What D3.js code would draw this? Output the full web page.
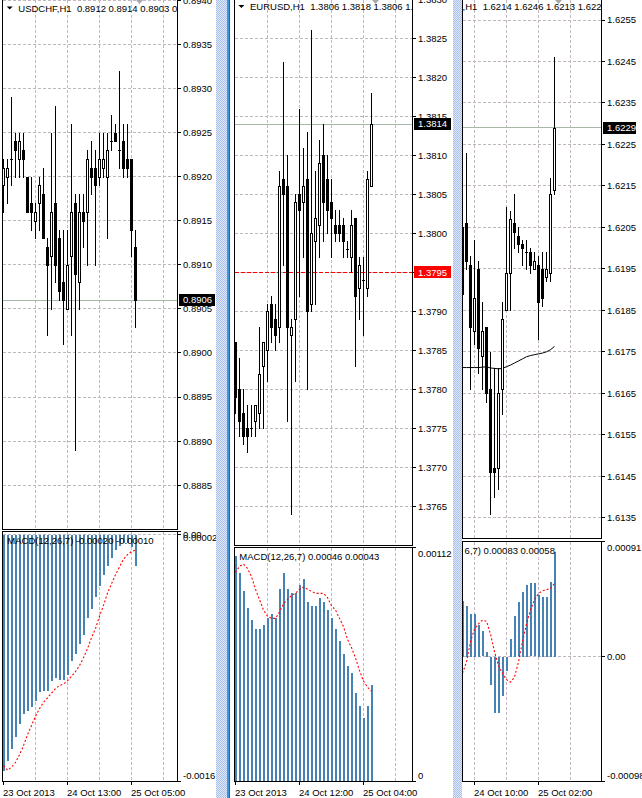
<!DOCTYPE html>
<html>
<head>
<meta charset="utf-8">
<script src="https://cdn.jsdelivr.net/npm/d3@7/dist/d3.min.js"></script>
<style>
html,body{margin:0;padding:0;background:#fff;overflow:hidden;}
svg{display:block;}
text{font-family:"Liberation Sans",Arial,Helvetica,sans-serif;font-size:9.5px;fill:#000;white-space:pre;}
</style>
</head>
<body>
<svg id="chart" width="642" height="798"></svg>
<script>
// ================= DATA =================
// USDCHF H1
const chfOpen  = [0.8919,0.8920,0.8922,0.8924,0.8922,0.8923,0.8920,0.8917,0.8915,0.8917,0.8918,0.8912,0.8911,0.8917,0.8913,0.8908,0.8905,0.8911,0.8917,0.8908,0.8916,0.8916,0.8921,0.8921,0.8920,0.8921,0.8920,0.8924,0.8925,0.8923,0.8924,0.8922,0.8922,0.8912];
const chfHigh  = [0.8922,0.8922,0.8929,0.8925,0.8925,0.8925,0.8920,0.8920,0.8917,0.8920,0.8921,0.8913,0.8925,0.8928,0.8914,0.8914,0.8914,0.8926,0.8918,0.8918,0.8918,0.8923,0.8924,0.8923,0.8925,0.8925,0.8925,0.8927,0.8926,0.8932,0.8926,0.8926,0.8922,0.8914];
const chfLow   = [0.8916,0.8917,0.8919,0.8920,0.8920,0.8920,0.8916,0.8914,0.8913,0.8914,0.8913,0.8902,0.8905,0.8908,0.8906,0.8901,0.8905,0.8902,0.8889,0.8905,0.8912,0.8910,0.8918,0.8910,0.8919,0.8920,0.8913,0.8923,0.8924,0.8921,0.8920,0.8920,0.8911,0.8903];
const chfClose = [0.8921,0.8921,0.8922,0.8923,0.8924,0.8922,0.8916,0.8916,0.8916,0.8919,0.8913,0.8910,0.8916,0.8910,0.8907,0.8906,0.8910,0.8916,0.8909,0.8916,0.8915,0.8922,0.8920,0.8919,0.8922,0.8922,0.8923,0.8924,0.8924,0.8923,0.8921,0.8921,0.8914,0.8906];
const chfMacd   = [-0.00153,-0.00147,-0.00139,-0.00131,-0.00123,-0.00116,-0.00114,-0.00112,-0.00108,-0.00102,-0.00101,-0.00101,-0.00095,-0.00093,-0.00094,-0.00094,-0.00091,-0.00082,-0.00077,-0.00071,-0.00065,-0.00054,-0.00048,-0.00040,-0.00033,-0.00026,-0.00020,-0.00015,-0.00010,-0.00007,-0.00005,-0.00005,-0.00008,-0.00020];
const chfSignal = [-0.00150,-0.00153,-0.00151,-0.00148,-0.00143,-0.00137,-0.00130,-0.00124,-0.00118,-0.00113,-0.00109,-0.00106,-0.00103,-0.00100,-0.00098,-0.00097,-0.00095,-0.00092,-0.00089,-0.00085,-0.00080,-0.00074,-0.00067,-0.00061,-0.00053,-0.00046,-0.00038,-0.00032,-0.00026,-0.00021,-0.00016,-0.00013,-0.00011,-0.00010];
const chfPriceTicks = [0.8885,0.8890,0.8895,0.8900,0.8905,0.8910,0.8915,0.8920,0.8925,0.8930,0.8935,0.8940];
const chfMacdScale = [-0.0016, 0.00002];
const chfMacdLevels = [0.00002, 0, -0.0016];
const chfMacdLevelText = ["0.00002", "0.00", "-0.0016"];
const chfDateIdx = [0, 16, 32];
const chfDateText = ["23 Oct 2013", "24 Oct 13:00", "25 Oct 05:00"];
const chfTitle = "USDCHF,H1  0.8912 0.8914 0.8903 0.8906";
const chfMacdTitle = "MACD(12,26,7) -0.00020 -0.00010";
const chfBid = 0.8906;

// EURUSD H1
const eurOpen  = [1.3786,1.3780,1.3777,1.3775,1.3775,1.3776,1.3777,1.3783,1.3785,1.3791,1.3789,1.3788,1.3807,1.3806,1.3787,1.3789,1.3805,1.3804,1.3807,1.3791,1.3799,1.3801,1.3810,1.3807,1.3804,1.3801,1.3801,1.3801,1.3798,1.3797,1.3802,1.3793,1.3794,1.3793,1.3806];
const eurHigh  = [1.3786,1.3784,1.3780,1.3778,1.3778,1.3778,1.3788,1.3786,1.3791,1.3792,1.3791,1.3808,1.3822,1.3810,1.3789,1.3805,1.3816,1.3811,1.3813,1.3826,1.3808,1.3812,1.3814,1.3810,1.3807,1.3803,1.3803,1.3802,1.3799,1.3803,1.3802,1.3797,1.3797,1.3808,1.3818];
const eurLow   = [1.3777,1.3774,1.3773,1.3772,1.3774,1.3774,1.3775,1.3775,1.3781,1.3786,1.3785,1.3786,1.3796,1.3776,1.3764,1.3781,1.3792,1.3797,1.3780,1.3790,1.3791,1.3797,1.3799,1.3800,1.3797,1.3799,1.3799,1.3797,1.3797,1.3795,1.3783,1.3789,1.3787,1.3792,1.3806];
const eurClose = [1.3779,1.3776,1.3774,1.3774,1.3775,1.3778,1.3782,1.3786,1.3790,1.3788,1.3787,1.3806,1.3805,1.3788,1.3788,1.3804,1.3803,1.3806,1.3790,1.3800,1.3802,1.3809,1.3804,1.3803,1.3802,1.3800,1.3800,1.3799,1.3798,1.3801,1.3792,1.3796,1.3794,1.3807,1.3814];
const eurMacd   = [0.00108,0.00100,0.00091,0.00083,0.00077,0.00073,0.00073,0.00075,0.00078,0.00080,0.00078,0.00092,0.00100,0.00092,0.00090,0.00090,0.00094,0.00097,0.00086,0.00084,0.00084,0.00088,0.00086,0.00082,0.00078,0.00073,0.00067,0.00061,0.00055,0.00052,0.00042,0.00036,0.00030,0.00036,0.00046];
const eurSignal = [0.00100,0.00103,0.00104,0.00102,0.00098,0.00092,0.00087,0.00082,0.00079,0.00078,0.00078,0.00081,0.00085,0.00087,0.00089,0.00090,0.00092,0.00093,0.00092,0.00091,0.00090,0.00090,0.00090,0.00088,0.00084,0.00082,0.00078,0.00074,0.00068,0.00064,0.00059,0.00053,0.00048,0.00045,0.00043];
const eurPriceTicks = [1.3765,1.3770,1.3775,1.3780,1.3785,1.3790,1.3795,1.3800,1.3805,1.3810,1.3815,1.3820,1.3825,1.3830];
const eurMacdScale = [0, 0.00112];
const eurMacdLevels = [0.00112, 0];
const eurMacdLevelText = ["0.00112", "0"];
const eurDateIdx = [0, 16, 32];
const eurDateText = ["23 Oct 2013", "24 Oct 12:00", "25 Oct 04:00"];
const eurTitle = "EURUSD,H1  1.3806 1.3818 1.3806 1.3814";
const eurMacdTitle = "MACD(12,26,7) 0.00046 0.00043";
const eurBid = 1.3814;
const eurAlert = 1.3795;

// GBPUSD H1 (window partly hidden on the left)
const gbpOpen  = [1.6205,1.6206,1.6196,1.6180,1.6195,1.6174,1.6181,1.6166,1.6147,1.6147,1.6166,1.6185,1.6194,1.6206,1.6203,1.6201,1.6199,1.6199,1.6195,1.6196,1.6195,1.6193,1.6194,1.6214];
const gbpHigh  = [1.6206,1.6223,1.6198,1.6202,1.6197,1.6187,1.6181,1.6175,1.6171,1.6171,1.6187,1.6210,1.6209,1.6213,1.6205,1.6202,1.6202,1.6200,1.6199,1.6198,1.6199,1.6199,1.6217,1.6246];
const gbpLow   = [1.6180,1.6195,1.6166,1.6177,1.6170,1.6166,1.6163,1.6136,1.6140,1.6142,1.6160,1.6185,1.6185,1.6200,1.6199,1.6196,1.6195,1.6194,1.6195,1.6178,1.6186,1.6192,1.6192,1.6213];
const gbpClose = [1.6189,1.6197,1.6181,1.6188,1.6176,1.6180,1.6165,1.6146,1.6146,1.6165,1.6183,1.6194,1.6207,1.6204,1.6201,1.6200,1.6199,1.6196,1.6197,1.6187,1.6188,1.6195,1.6213,1.6229];
const gbpMA     = [1.61712,1.61712,1.61712,1.61712,1.61712,1.61713,1.61714,1.61711,1.61710,1.61709,1.61710,1.61714,1.61718,1.61723,1.61728,1.61733,1.61738,1.61741,1.61743,1.61745,1.61747,1.61750,1.61755,1.61763];
const gbpMacd   = [0.00044,0.00040,0.00034,0.00034,0.00025,0.00020,0.00004,-0.00022,-0.00044,-0.00044,-0.00031,-0.00011,0.00014,0.00032,0.00043,0.00051,0.00057,0.00058,0.00058,0.00049,0.00047,0.00047,0.00059,0.00083];
const gbpSignal = [-0.00013,-0.00004,0.00012,0.00022,0.00026,0.00029,0.00028,0.00018,0.00004,-0.00007,-0.00013,-0.00018,-0.00020,-0.00016,-0.00004,0.00012,0.00026,0.00037,0.00045,0.00050,0.00052,0.00053,0.00054,0.00058];
const gbpPriceTicks = [1.6135,1.6145,1.6155,1.6165,1.6175,1.6185,1.6195,1.6205,1.6215,1.6225,1.6235,1.6245,1.6255];
const gbpMacdScale = [-0.00098, 0.00091];
const gbpMacdLevels = [0.00091, 0, -0.00098];
const gbpMacdLevelText = ["0.00091", "0.00", "-0.00098"];
const gbpDateIdx = [3, 19];
const gbpDateText = ["24 Oct 10:00", "25 Oct 02:00"];
const gbpTitle = "GBPUSD,H1  1.6214 1.6246 1.6213 1.6229";
const gbpMacdTitle = "MACD(12,26,7) 0.00083 0.00058";
const gbpBid = 1.6229;

// ================= LAYOUT =================
// titleHide / macdHide: number of leading characters hidden behind the overlapping window
const layout = {
  chf: {left:2.5, right:177.5, bar0:3.5, step:4, gridStart:8, priceRange:[485.3,0.2], mainBottom:529.5, macdTop:531.5, macdBottom:781.5, titleY:11.8, titleX:18.3, titleHide:0, macdTitleX:7.3, macdHide:0, boxW:36},
  eur: {left:234.5, right:412.5, bar0:235.5, step:4, gridStart:8, priceRange:[506.3,-0.7], mainBottom:545.5, macdTop:547.5, macdBottom:781.5, titleY:10.2, titleX:250, titleHide:0, macdTitleX:239.3, macdHide:0, boxW:37},
  gbp: {left:462.5, right:601.5, bar0:462.5, step:4, gridStart:3, priceRange:[517.7,20], mainBottom:538.5, macdTop:541.5, macdBottom:781.5, titleY:9.8, titleX:462.6, titleHide:6, macdTitleX:464.6, macdHide:9, boxW:33}
};

const panels = [
  {id:"chf", O:chfOpen, H:chfHigh, L:chfLow, C:chfClose, macd:chfMacd, sig:chfSignal, ticks:chfPriceTicks, macdScale:chfMacdScale, levels:chfMacdLevels, levelText:chfMacdLevelText, dateIdx:chfDateIdx, dateText:chfDateText, title:chfTitle, macdTitle:chfMacdTitle, bid:chfBid},
  {id:"eur", O:eurOpen, H:eurHigh, L:eurLow, C:eurClose, macd:eurMacd, sig:eurSignal, ticks:eurPriceTicks, macdScale:eurMacdScale, levels:eurMacdLevels, levelText:eurMacdLevelText, dateIdx:eurDateIdx, dateText:eurDateText, title:eurTitle, macdTitle:eurMacdTitle, bid:eurBid, alert:eurAlert},
  {id:"gbp", O:gbpOpen, H:gbpHigh, L:gbpLow, C:gbpClose, macd:gbpMacd, sig:gbpSignal, ticks:gbpPriceTicks, macdScale:gbpMacdScale, levels:gbpMacdLevels, levelText:gbpMacdLevelText, dateIdx:gbpDateIdx, dateText:gbpDateText, title:gbpTitle, macdTitle:gbpMacdTitle, bid:gbpBid, ma:gbpMA}
];

// ================= DRAW =================
const svg = d3.select("#chart");
const defs = svg.append("defs");
const GRID = "#c2b6c0";
const snap = v => Math.round(v - 0.5) + 0.5;
const fmt4 = d3.format(".4f");

function drawPanel(d, L) {
  const x = d3.scaleLinear().domain([0, 1]).range([L.bar0, L.bar0 + L.step]);
  const y = d3.scaleLinear().domain(d3.extent(d.ticks)).range(L.priceRange);
  const ym = d3.scaleLinear().domain(d.macdScale).range([L.macdBottom - 0.5, L.macdTop]);
  const n = d.O.length;
  const idx = d3.range(n);

  defs.append("clipPath").attr("id", d.id + "-mc").append("rect")
    .attr("x", L.left).attr("y", -10).attr("width", L.right - L.left).attr("height", L.mainBottom + 10);
  defs.append("clipPath").attr("id", d.id + "-dc").append("rect")
    .attr("x", L.left).attr("y", L.macdTop).attr("width", L.right - L.left).attr("height", L.macdBottom - L.macdTop);

  const g = svg.append("g");
  const gm = g.append("g").attr("clip-path", `url(#${d.id}-mc)`);
  const gd = g.append("g").attr("clip-path", `url(#${d.id}-dc)`);
  const crisp = s => s.attr("shape-rendering", "crispEdges");

  // ---- grid ----
  const gridIdx = d3.range(L.gridStart, 200, 8).filter(i => x(i) < L.right - 1);
  crisp(gm.selectAll(null).data(gridIdx).enter().append("line"))
    .attr("x1", i => x(i)).attr("x2", i => x(i)).attr("y1", -10).attr("y2", L.mainBottom)
    .attr("stroke", GRID).attr("stroke-dasharray", "3,2");
  crisp(gd.selectAll(null).data(gridIdx).enter().append("line"))
    .attr("x1", i => x(i)).attr("x2", i => x(i)).attr("y1", L.macdTop).attr("y2", L.macdBottom)
    .attr("stroke", GRID).attr("stroke-dasharray", "3,2");
  crisp(gm.selectAll(null).data(d.ticks).enter().append("line"))
    .attr("x1", L.left).attr("x2", L.right).attr("y1", v => snap(y(v))).attr("y2", v => snap(y(v)))
    .attr("stroke", GRID).attr("stroke-dasharray", "3,2");
  crisp(gd.append("line"))
    .attr("x1", L.left).attr("x2", L.right).attr("y1", snap(ym(0))).attr("y2", snap(ym(0)))
    .attr("stroke", GRID).attr("stroke-dasharray", "3,2");

  // ---- bid / alert lines ----
  crisp(gm.append("line")).attr("x1", L.left).attr("x2", L.right)
    .attr("y1", snap(y(d.bid))).attr("y2", snap(y(d.bid))).attr("stroke", "#a9b9a9");
  if (d.alert !== undefined) {
    crisp(gm.append("line")).attr("x1", L.left).attr("x2", L.right)
      .attr("y1", snap(y(d.alert))).attr("y2", snap(y(d.alert)))
      .attr("stroke", "#ff0000").attr("stroke-dasharray", "4,2");
  }

  // ---- moving average ----
  if (d.ma) {
    gm.append("path").datum(d.ma)
      .attr("d", d3.line().x((v, i) => x(i)).y(v => y(v)))
      .attr("fill", "none").attr("stroke", "#000").attr("stroke-width", 1);
  }

  // ---- candles ----
  const cg = gm.append("g").attr("shape-rendering", "crispEdges");
  idx.forEach(i => {
    const cx = x(i);
    const o = d.O[i], c = d.C[i];
    const yH = Math.round(y(d.H[i])), yL = Math.round(y(d.L[i]));
    const yT = Math.round(y(Math.max(o, c))), yB = Math.round(y(Math.min(o, c)));
    cg.append("rect").attr("x", cx - 0.5).attr("y", yH).attr("width", 1).attr("height", Math.max(1, yL - yH + 1)).attr("fill", "#000");
    if (yB - yT < 1) {
      cg.append("rect").attr("x", cx - 1.5).attr("y", yT).attr("width", 3).attr("height", 1).attr("fill", "#000");
    } else if (c > o) {
      cg.append("rect").attr("x", cx - 1.5).attr("y", yT).attr("width", 3).attr("height", yB - yT + 1).attr("fill", "#000");
      if (yB - yT >= 2) cg.append("rect").attr("x", cx - 0.5).attr("y", yT + 1).attr("width", 1).attr("height", yB - yT - 1).attr("fill", "#fff");
    } else {
      cg.append("rect").attr("x", cx - 1.5).attr("y", yT).attr("width", 3).attr("height", yB - yT + 1).attr("fill", "#000");
    }
  });

  // ---- MACD histogram & signal ----
  crisp(gd.selectAll(null).data(idx).enter().append("rect"))
    .attr("x", i => x(i) - 0.5).attr("width", 2)
    .attr("y", i => Math.round(Math.min(ym(0), ym(d.macd[i]))))
    .attr("height", i => Math.max(1, Math.round(Math.abs(ym(d.macd[i]) - ym(0)))))
    .attr("fill", "#4682b4");
  gd.append("path").datum(d.sig)
    .attr("d", d3.line().x((v, i) => x(i)).y(v => ym(v)))
    .attr("fill", "none").attr("stroke", "#ff0000").attr("stroke-width", 1.1).attr("stroke-dasharray", "2,2");

  // ---- titles (the part hidden behind the neighbouring window is not drawn) ----
  const tt = gm.append("text").attr("x", L.titleX).attr("y", L.titleY).text(d.title.slice(L.titleHide));
  if (!L.titleHide) {
    const tx = L.titleX;
    gm.append("path")
      .attr("d", `M${tx - 11.6},${L.titleY - 5.3}L${tx - 5.6},${L.titleY - 5.3}L${tx - 8.6},${L.titleY - 2.2}Z`)
      .attr("fill", "#000");
  }
  gd.append("text").attr("x", L.macdTitleX).attr("y", L.macdTop + 12.3).text(d.macdTitle.slice(L.macdHide));

  // ---- shift marker ----
  const sx = x(n);
  g.append("path").attr("d", `M${sx - 3.5},0L${sx + 3.5},0L${sx},4Z`).attr("fill", "#a8a8a8");

  // ---- frames ----
  const fr = g.append("g").attr("shape-rendering", "crispEdges").attr("stroke", "#000").attr("fill", "none");
  fr.append("path").attr("d", `M${L.left},-1V${L.mainBottom}H${L.right}V-1`);
  fr.append("rect").attr("x", L.left).attr("y", L.macdTop).attr("width", L.right - L.left).attr("height", L.macdBottom - L.macdTop);

  // ---- price axis ----
  const ax = g.append("g");
  crisp(ax.selectAll(null).data(d.ticks).enter().append("line"))
    .attr("x1", L.right).attr("x2", L.right + 3).attr("y1", v => snap(y(v))).attr("y2", v => snap(y(v))).attr("stroke", "#000");
  ax.selectAll(null).data(d.ticks).enter().append("text")
    .attr("x", L.right + 5.5).attr("y", v => y(v)).attr("dy", "0.35em").text(v => fmt4(v));

  // bid label box
  const by = y(d.bid);
  crisp(ax.append("rect")).attr("x", L.right + 1.5).attr("y", Math.round(by) - 6).attr("width", L.boxW).attr("height", 12).attr("fill", "#000");
  ax.append("text").attr("x", L.right + 5.5).attr("y", by).attr("dy", "0.35em").style("fill", "#fff").text(fmt4(d.bid));
  if (d.alert !== undefined) {
    const ay = y(d.alert);
    crisp(ax.append("rect")).attr("x", L.right + 1.5).attr("y", Math.round(ay) - 6).attr("width", L.boxW).attr("height", 12).attr("fill", "#ff0000");
    ax.append("text").attr("x", L.right + 5.5).attr("y", ay).attr("dy", "0.35em").style("fill", "#fff").text(fmt4(d.alert));
  }

  // ---- MACD axis ----
  const lvY = v => v === d.macdScale[1] ? L.macdTop + 6.5 : (v === d.macdScale[0] ? L.macdBottom - 6 : ym(v));
  crisp(ax.selectAll(null).data(d.levels).enter().append("line"))
    .attr("x1", L.right).attr("x2", L.right + 3).attr("y1", v => snap(ym(v))).attr("y2", v => snap(ym(v))).attr("stroke", "#000");
  ax.selectAll(null).data(d.levels).enter().append("text")
    .attr("x", L.right + 5.5).attr("y", v => lvY(v)).attr("dy", "0.35em").text((v, i) => d.levelText[i]);

  // ---- date axis ----
  crisp(ax.selectAll(null).data(d.dateIdx).enter().append("line"))
    .attr("x1", i => x(i)).attr("x2", i => x(i)).attr("y1", L.macdBottom).attr("y2", L.macdBottom + 3).attr("stroke", "#000");
  ax.selectAll(null).data(d.dateIdx).enter().append("text")
    .attr("x", i => x(i) - 0.5).attr("y", 796).text((i, k) => d.dateText[k]);
}

panels.forEach(p => drawPanel(p, layout[p.id]));

// ---- window separators ----
const pat = defs.append("pattern").attr("id", "sep").attr("width", 2).attr("height", 2).attr("patternUnits", "userSpaceOnUse");
pat.append("rect").attr("width", 2).attr("height", 2).attr("fill", "#dfe8f8");
pat.append("rect").attr("width", 1).attr("height", 1).attr("fill", "#a8c0ea");
pat.append("rect").attr("x", 1).attr("y", 1).attr("width", 1).attr("height", 1).attr("fill", "#a8c0ea");
const sep = svg.append("g").attr("shape-rendering", "crispEdges");
sep.append("rect").attr("x", 216).attr("y", 0).attr("width", 11).attr("height", 798).attr("fill", "url(#sep)");
sep.append("rect").attr("x", 227).attr("y", 0).attr("width", 2).attr("height", 798).attr("fill", "#3a96de");
sep.append("rect").attr("x", 229).attr("y", 0).attr("width", 1).attr("height", 798).attr("fill", "#5a5a5a");
sep.append("rect").attr("x", 230).attr("y", 0).attr("width", 4).attr("height", 798).attr("fill", "#fff");
sep.append("rect").attr("x", 453).attr("y", 0).attr("width", 9).attr("height", 798).attr("fill", "url(#sep)");
</script>
</body>
</html>
